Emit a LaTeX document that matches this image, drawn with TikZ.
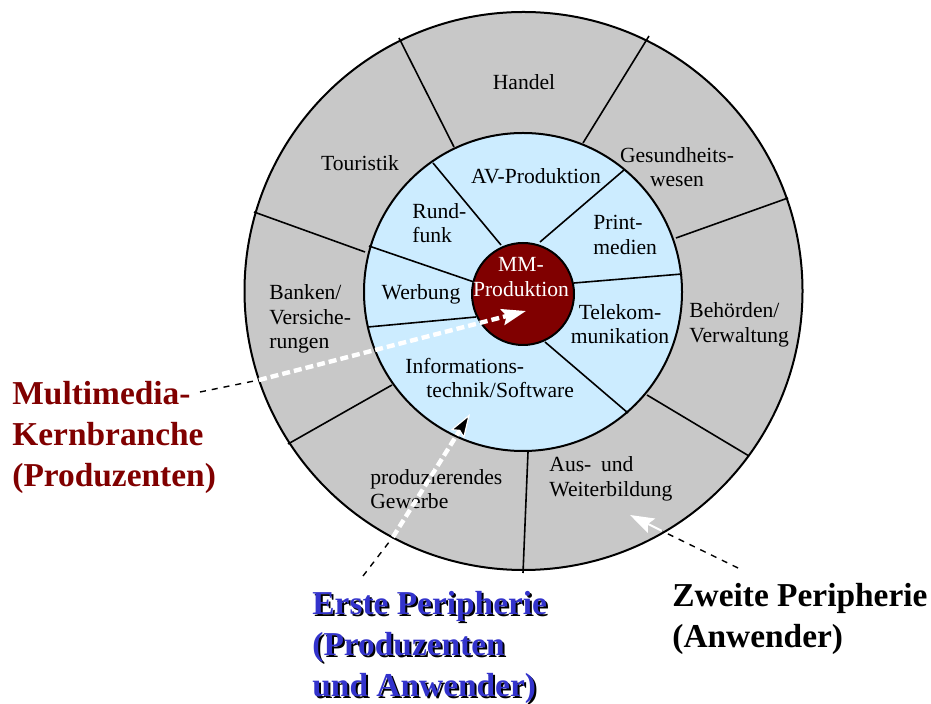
\documentclass[tikz,border=0pt]{standalone}
\usepackage{fontspec}
\setmainfont{Liberation Serif}
\usetikzlibrary{arrows.meta}

\definecolor{ringgray}{RGB}{200,200,200}
\definecolor{ringblue}{RGB}{204,236,255}
\definecolor{corered}{RGB}{128,0,0}
\definecolor{periblue}{RGB}{51,51,204}

\tikzset{
  sector/.style={font=\fontsize{10.8}{12.3}\selectfont, inner sep=0pt},
  biglabel/.style={font=\bfseries\fontsize{16.7}{20.5}\selectfont, align=left, inner sep=0pt, anchor=north west},
  divider/.style={line width=0.8pt},
  rim/.style={line width=1pt},
  rimdash/.style={line width=0.7pt, dash pattern=on 3pt off 3pt},
  whitedash/.style={white, line width=2.2pt, dash pattern=on 4pt off 2pt},
}

\begin{document}
\begin{tikzpicture}[x=0.5pt,y=-0.5pt]

\useasboundingbox (0,0) rectangle (931,704);

\begin{scope}

% outer ring
\draw[rim, fill=ringgray] (523.5,291) circle[radius=139.5pt];
\foreach \xa/\ya/\xb/\yb in {399/38/454/147, 649/36/583/143, 788/198/676/238, 647/395/749/456,
  528/452/523/573, 392/385/288/444, 365/252/254/212}
\draw[divider] (\xa,\ya) -- (\xb,\yb);

% first ring
\draw[rim, fill=ringblue] (523,292) circle[radius=79.5pt];
\foreach \xa/\ya/\xb/\yb in {433/163/501/245, 624/170/540/242, 574/283/682/274,
  545/342/628/413, 476/317/368/327, 474/282/369/246}
\draw[divider] (\xa,\ya) -- (\xb,\yb);

% core
\draw[rim, fill=corered] (523,294) circle[radius=25.5pt];

\end{scope}

\node[sector] (handel) at (524,82) {Handel};
\node[sector] (touristik) at (360,163) {Touristik};
\node[sector, align=center] (gesund) at (677,167) {Gesundheits-\\wesen};
\node[sector, align=left, anchor=west] (banken) at (269,319) {Banken/\\Versiche-\\rungen};
\node[sector, align=left, anchor=west] (behoerden) at (689,325) {Behörden/\\Verwaltung};
\node[sector, align=left, anchor=west] (bildung) at (549,479) {Aus-\hspace{0.45em}und\\Weiterbildung};
\node[sector, align=left, anchor=west] (gewerbe) at (370,489) {produzierendes\\Gewerbe};

\node[sector] (avprod) at (536,176) {AV-Produktion};
\node[sector, align=left, anchor=west] (rundfunk) at (412,223) {Rund-\\funk};
\node[sector, align=left, anchor=west] (print) at (593,235) {Print-\\medien};
\node[sector] (werbung) at (421,294) {Werbung};
\node[sector, align=center] (telekom) at (620,324) {Telekom-\\munikation};
\node[sector, align=left, anchor=west] (infotech) at (405,378) {Informations-\\\hspace*{10.5pt}technik/Software};
\node[sector, align=center, text=white] (mmprod) at (521,277) {MM-\\Produktion};

\node[biglabel, text=corered] (kern) at (12,381) {Multimedia-\\Kernbranche\\(Produzenten)};
\node[biglabel, text=black] (ersteShadow) at (314,593) {Erste Peripherie\\(Produzenten\\und Anwender)};
\node[biglabel, text=periblue] (erste) at (312,591) {Erste Peripherie\\(Produzenten\\und Anwender)};
\node[biglabel] (zweite) at (672,583) {Zweite Peripherie\\(Anwender)};

\coordinate (kernStart) at (200,392);
\coordinate (kernRim) at (259,380);
\coordinate (kernEnd) at (526,311);
\draw[rimdash] (kernStart) -- (kernRim);
\draw[whitedash, -{Stealth[length=12pt, width=8pt, inset=2pt]}] (kernRim) -- (kernEnd);

\coordinate (ersteStart) at (363,576);
\coordinate (ersteRim) at (393,537);
\coordinate (ersteEnd) at (470,414);
\draw[rimdash] (ersteStart) -- (ersteRim);
\draw[whitedash, -{Stealth[length=12pt, width=8pt, inset=2pt, fill=black, line width=0.6pt]}] (ersteRim) -- (ersteEnd);

\coordinate (zweiteStart) at (738,568);
\coordinate (zweiteRim) at (662,531);
\coordinate (zweiteEnd) at (630,515);
\draw[rimdash] (zweiteStart) -- (zweiteRim);
\draw[white, line width=1pt, -{Stealth[length=12pt, width=8pt, inset=2pt]}] (zweiteRim) -- (zweiteEnd);

\end{tikzpicture}
\end{document}
